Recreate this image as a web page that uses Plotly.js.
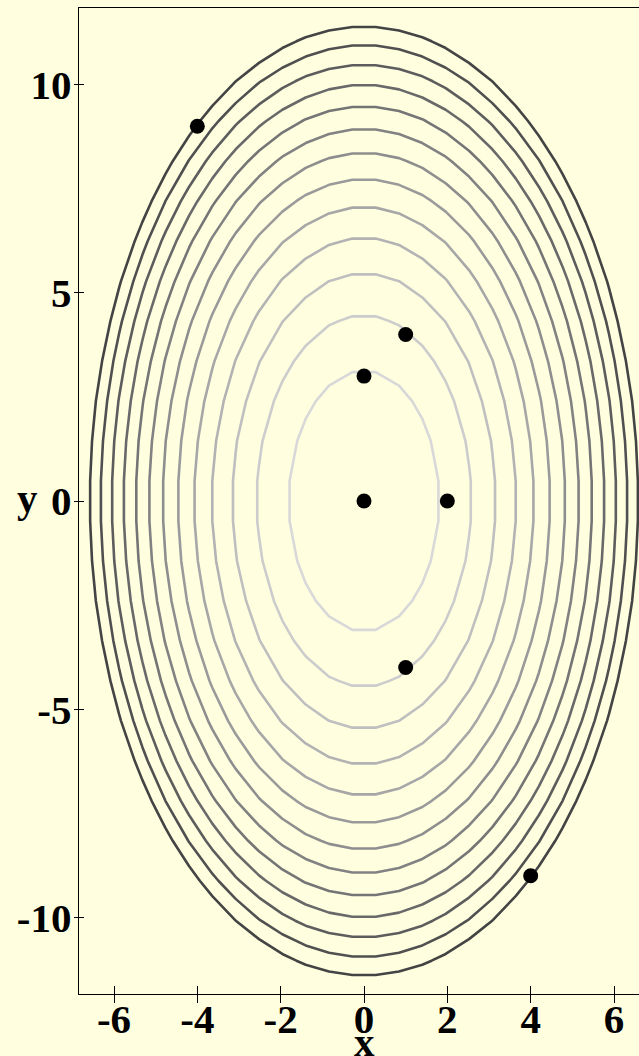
<!DOCTYPE html>
<html>
<head>
<meta charset="utf-8">
<script src="https://cdn.plot.ly/plotly-3.0.1.min.js"></script>
<style>
html, body { margin: 0; padding: 0; overflow: hidden; background: #ffffe0; }
#chart { width: 660px; height: 1056px; }
</style>
</head>
<body>
<div id="chart"></div>
<script>
// Observed points
const pointsX = [0, 2, 0, 1, 1, -4, 4];
const pointsY = [0, 0, 3, 4, -4, 9, -9];

// Contour surface: z = A*x^2 + B*y^2, sampled on a coarse grid
const quadA = 3;
const quadB = 1;
const gridXMin = -7, gridXMax = 7, gridYMin = -12, gridYMax = 12, gridN = 26;
const contourStart = 10, contourEnd = 130, contourStep = 10;

// Tick labels
const xTickVals = [-6, -4, -2, 0, 2, 4, 6];
const xTickText = ["-6", "-4", "-2", "0", "2", "4", "6"];
const yTickVals = [-10, -5, 0, 5, 10];
const yTickText = ["-10", "-5", "0", "5", "10"];

const gridX = [], gridY = [];
for (let i = 0; i < gridN; i++) {
  gridX.push(gridXMin + (gridXMax - gridXMin) * i / (gridN - 1));
  gridY.push(gridYMin + (gridYMax - gridYMin) * i / (gridN - 1));
}
const gridZ = gridY.map(yv => gridX.map(xv => quadA * xv * xv + quadB * yv * yv));

const font = {family: "Liberation Serif, Times New Roman, serif", size: 41, color: "#000", weight: "bold"};

const traces = [
  {
    type: "contour",
    x: gridX, y: gridY, z: gridZ,
    autocontour: false,
    contours: {start: contourStart, end: contourEnd, size: contourStep, coloring: "lines"},
    line: {width: 2.6, smoothing: 0},
    colorscale: [[0, "#d8d8d8"], [1, "#444444"]],
    zauto: false, zmin: contourStart, zmax: contourEnd,
    showscale: false,
    hoverinfo: "skip"
  },
  {
    type: "scatter", mode: "markers",
    x: pointsX, y: pointsY,
    marker: {color: "#000", size: 15},
    showlegend: false,
    hoverinfo: "skip"
  }
];

const xr = [-6.84, 6.84], yr = [-11.84, 11.84];
const layout = {
  width: 660, height: 1056,
  margin: {l: 79, r: 11, t: 8, b: 62},
  paper_bgcolor: "#ffffe0",
  plot_bgcolor: "#ffffe0",
  showlegend: false,
  hovermode: false,
  font: font,
  xaxis: {
    range: xr, tickvals: xTickVals, ticktext: xTickText,
    ticks: "outside", ticklen: 8, tickwidth: 1, tickcolor: "#000",
    showline: true, linecolor: "#000", linewidth: 1.3, mirror: true,
    showgrid: false, zeroline: false, tickfont: font, ticklabelstandoff: -20
  },
  yaxis: {
    range: yr, tickvals: yTickVals, ticktext: yTickText,
    ticks: "outside", ticklen: 4, tickwidth: 1, tickcolor: "#000",
    showline: true, linecolor: "#000", linewidth: 1.3, mirror: true,
    showgrid: false, zeroline: false, tickfont: font, ticklabelstandoff: -6
  },
  xaxis2: {
    overlaying: "x", anchor: "y", side: "bottom", range: xr,
    tickvals: xTickVals, ticks: "inside", ticklen: 8, tickwidth: 1, tickcolor: "#000",
    showticklabels: false, showline: false, showgrid: false, zeroline: false
  },
  yaxis2: {
    overlaying: "y", anchor: "x", side: "left", range: yr,
    tickvals: yTickVals, ticks: "inside", ticklen: 5, tickwidth: 1, tickcolor: "#000",
    showticklabels: false, showline: false, showgrid: false, zeroline: false
  },
  annotations: [
    {text: "y", xref: "paper", yref: "y", x: -0.09, y: 0, xanchor: "center", yanchor: "middle",
     showarrow: false, font: font, yshift: 3},
    {text: "x", xref: "x", yref: "paper", x: 0, y: -0.054, xanchor: "center", yanchor: "middle",
     showarrow: false, font: font, yshift: 5}
  ]
};

traces.push({type: "scatter", x: [], y: [], xaxis: "x2", yaxis: "y2", showlegend: false, hoverinfo: "skip"});

Plotly.newPlot("chart", traces, layout, {displayModeBar: false, staticPlot: true});
</script>
</body>
</html>
